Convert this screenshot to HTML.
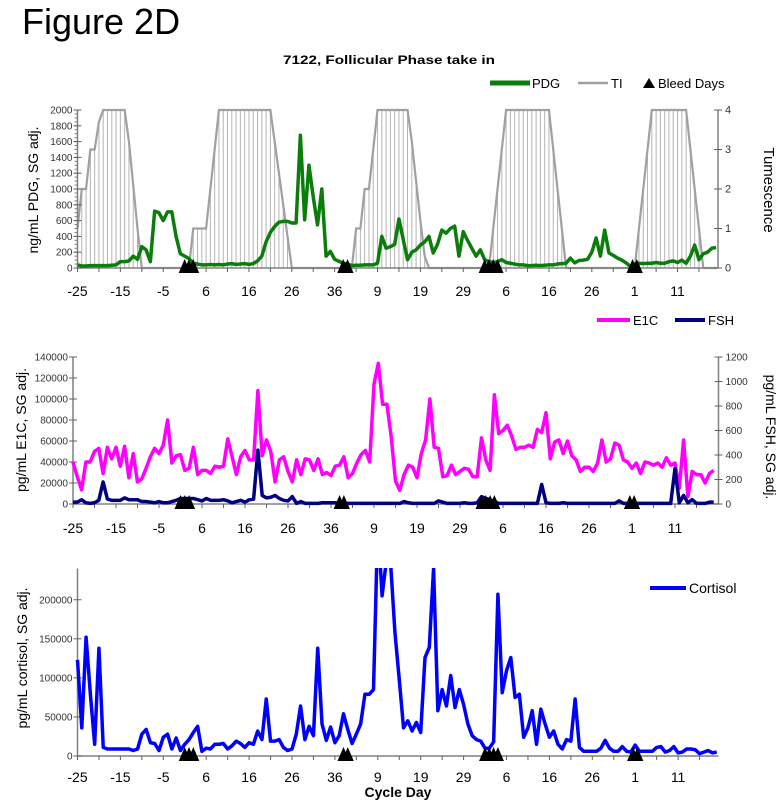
<!DOCTYPE html>
<html>
<head>
<meta charset="utf-8">
<style>
  html,body{margin:0;padding:0;background:#fff;}
  svg{display:block;font-family:"Liberation Sans",Arial,sans-serif;}
</style>
</head>
<body>
<svg id="chart" width="779" height="805" viewBox="0 0 779 805" xmlns="http://www.w3.org/2000/svg">
  <defs>
    <clipPath id="clipTop"><rect x="70" y="108" width="652" height="170"/></clipPath>
    <clipPath id="clipMid"><rect x="70" y="340" width="652" height="170"/></clipPath>
    <clipPath id="clipBot"><rect x="70" y="568" width="652" height="196"/></clipPath>
  </defs>
  <text x="22" y="34" font-size="36" fill="#000">Figure 2D</text>
  <text x="389" y="64" font-size="12" font-weight="bold" text-anchor="middle" textLength="212" lengthAdjust="spacingAndGlyphs">7122,  Follicular Phase take in</text>

  <g>
    <line x1="490" y1="83" x2="530" y2="83" stroke="#0a7d0a" stroke-width="5"/>
    <text x="532" y="88" font-size="13">PDG</text>
    <line x1="578" y1="83" x2="608" y2="83" stroke="#a0a0a0" stroke-width="2.5"/>
    <text x="611" y="88" font-size="13">TI</text>
    <polygon points="643,88 655,88 649,78" fill="#000"/>
    <text x="658" y="88" font-size="13">Bleed Days</text>
  </g>
  <g>
    <line x1="597" y1="320" x2="630" y2="320" stroke="#ff00ff" stroke-width="4"/>
    <text x="633" y="325" font-size="13">E1C</text>
    <line x1="675" y1="320" x2="705" y2="320" stroke="#000080" stroke-width="4"/>
    <text x="708" y="325" font-size="13">FSH</text>
  </g>
  <g>
    <line x1="650" y1="588" x2="686" y2="588" stroke="#0000ff" stroke-width="4"/>
    <text x="689" y="593" font-size="14">Cortisol</text>
  </g>

  <text transform="translate(38,190) rotate(-90)" font-size="14" text-anchor="middle">ng/mL PDG, SG adj.</text>
  <text transform="translate(764,190) rotate(90)" font-size="15" text-anchor="middle">Tumescence</text>
  <text transform="translate(26,430) rotate(-90)" font-size="14" text-anchor="middle">pg/mL E1C, SG adj.</text>
  <text transform="translate(766,437) rotate(90)" font-size="14" text-anchor="middle">pg/mL FSH, SG adj.</text>
  <text transform="translate(27,658) rotate(-90)" font-size="14" text-anchor="middle">pg/mL cortisol, SG adj.</text>
  <text x="398" y="797" font-size="14" font-weight="bold" text-anchor="middle">Cycle Day</text>
</svg>
<script>
const xTickLabels = ["-25","-15","-5","6","16","26","36","9","19","29","6","16","26","1","11"];
const bleedDays = [25,26,27,62,63,95,96,97,98,129.5,130.5];
const pdg = [40,25,25,30,30,30,30,30,35,40,80,80,90,150,110,270,230,80,720,700,600,710,710,400,180,150,120,60,50,40,40,45,40,45,40,50,55,45,50,55,45,55,90,150,330,450,525,580,590,590,570,570,1680,610,1300,900,545,1000,150,210,110,85,60,50,30,35,35,40,40,40,60,400,250,270,300,620,360,105,200,230,290,330,400,190,300,480,440,500,530,150,460,350,250,150,230,105,80,70,80,105,70,60,50,40,40,30,30,35,30,35,40,40,50,55,60,125,65,95,100,110,200,380,150,480,190,160,125,100,65,20,50,60,55,60,60,70,60,60,80,90,70,100,60,150,290,105,180,200,250,260];
const ti = [1,2,2,3,3,3.7,4,4,4,4,4,4,3.2,2.1,1,0,0,0,0,0,0,0,0,0,0,0,0,1,1,1,1,2,3,4,4,4,4,4,4,4,4,4,4,4,4,4,3.2,2.4,1.6,0.8,0,0,0,0,0,0,0,0,0,0,0,0,0,0,0,1,1,2,2,3,4,4,4,4,4,4,4,4,3.2,2.2,1.2,0.3,0,0,0,0,0,0,0,0,0,0,0,0,0,0,0,1,2,3,4,4,4,4,4,4,4,4,4,4,4,3,2,1,0,0,0,0,0,0,0,0,0,0,0,0,0,0,0,0,0,1,2,3,4,4,4,4,4,4,4,4,4,3,2,1,0,0,0,0];
const e1cK = [40,26,13.5,40,40,50,53,29,54,43,54,36,55,25,48,21,24,34,45,53,48,56,80,39,46,47,32,34,54,28,32,32,29,36,35,36,62,45,28,45,51,42,42,108,46,61,50,21,42,45,31,21,42,28,43,42,32,43,28,30,27,36,37,45,25,29,39,47,51,40,114,134,95,95,64,22,13,28,37,35,25,48,61,100,54,53,26,27,37,28,31,34,33,26,26,63,42,32,104,67,70,75,65,52,54,54,56,54,71,68,87,43,59,61,48,60,46,42,31,35,35,31,39,61,40,43,58,56,42,40,34,39,29,40,39,37,39,35,44,37,39,15,61,7,31,28,28,20,29,32];
const fsh = [15,15,35,10,5,10,30,180,40,30,30,30,50,35,35,35,20,20,15,10,20,10,10,20,30,45,45,45,45,35,25,45,30,30,30,35,25,10,20,30,15,35,40,440,70,50,55,70,45,30,25,60,5,20,5,5,5,5,10,10,10,10,5,5,5,5,5,5,5,5,5,5,5,5,5,5,5,20,10,5,5,5,5,5,5,25,15,5,5,5,5,10,5,5,10,60,45,35,20,5,5,5,5,5,5,5,5,5,5,160,10,5,5,5,10,5,5,5,5,5,5,5,5,5,5,5,5,25,5,5,5,5,5,5,5,5,5,5,5,5,290,10,70,10,35,5,5,5,15,15];
const cortisolK = [123,36,152,79,15,138,11,9,9,9,9,9,9,7,9,28,34,17,16,7,24,28,9,23,7,15,21,30,38,6,10,9,15,15,16,9,13,19,16,11,17,15,32,21,73,19,19,21,11,7,9,28,64,21,38,26,138,41,20,37,17,26,54,34,16,28,41,79,79,85,300,205,250,245,158,98,36,45,32,43,30,126,139,240,58,85,64,103,62,85,66,41,26,21,19,10,10,18,207,81,109,126,75,79,24,36,58,15,60,41,24,32,15,9,21,19,73,11,6,6,6,6,10,20,10,6,6,12,6,5,14,6,6,6,6,11,12,5,7,12,4,5,9,9,8,3,5,7,4,5];
const pdgTicks = [0,200,400,600,800,1000,1200,1400,1600,1800,2000];
const tiTicks = [0,1,2,3,4];
const e1cTicks = [0,20000,40000,60000,80000,100000,120000,140000];
const fshTicks = [0,200,400,600,800,1000,1200];
const cortisolTicks = [0,50000,100000,150000,200000];

const NS = "http://www.w3.org/2000/svg";
const svg = document.getElementById('chart');
function mk(tag, attrs, parent){
  const e = document.createElementNS(NS, tag);
  for (const k in attrs) e.setAttribute(k, attrs[k]);
  (parent||svg).appendChild(e);
  return e;
}

const P = {
  top: {x0:77.5, dx:4.286, xr:718, base:268, top:110, lmax:2000, rmax:4},
  mid: {x0:73, dx:4.3, xr:718.5, base:504, top:357, lmax:140000, rmax:1200},
  bot: {x0:77.5, dx:4.29, xr:718.5, base:756, top:568.5, lmax:240000}
};
function xS(p, i){ return p.x0 + i*p.dx; }
function yL(p, v){ return p.base - v/p.lmax*(p.base-p.top); }
function yR(p, v){ return p.base - v/p.rmax*(p.base-p.top); }

function drawXAxis(p, key, labelY){
  const g = mk('g', {});
  
  
  const ax = mk('line', {x1:p.x0, y1:p.base, x2:p.xr, y2:p.base, stroke:'#808080', 'stroke-width':1.5}, g);
  
  
  for (let i=0; i<=149; i+=5){
    const t = mk('line', {x1:xS(p,i), y1:p.base, x2:xS(p,i), y2:p.base+4, stroke:'#606060', 'stroke-width':1}, g);
    
    
  }
  xTickLabels.forEach((lab, k) => {
    const t = mk('text', {x:xS(p,k*10), y:labelY, 'font-size':14, 'text-anchor':'middle'}, g);
    t.textContent = lab;
    
    
  });
}
function drawYAxis(p, key, side, ticks, scale, fmt, fs, minorStep){
  const x = side==='left' ? p.x0 : p.xr;
  const g = mk('g', {});
  
  
  const ax = mk('line', {x1:x, y1:p.top, x2:x, y2:p.base, stroke:'#808080', 'stroke-width':1.5}, g);
  
  
  if (minorStep){
    for (let v=0; v<=ticks[ticks.length-1]; v+=minorStep){
      const m = mk('line', {x1:x-3, y1:scale(v), x2:x, y2:scale(v), stroke:'#808080', 'stroke-width':1}, g);
      
      
    }
  }
  ticks.forEach(v => {
    const y = scale(v);
    const t = mk('line', {x1:x-4, y1:y, x2:x+4, y2:y, stroke:'#606060', 'stroke-width':1}, g);
    
    
    const lx = side==='left' ? x-5 : x+7;
    const tx = mk('text', {x:lx, y:y+3.5, 'font-size':fs, fill:'#333', 'text-anchor': side==='left'?'end':'start'}, g);
    tx.textContent = fmt(v);
    
    
  });
}
function linePath(p, vals, scale){
  return vals.map((v,i) => (i?'L':'M') + xS(p,i).toFixed(2) + ',' + scale(v).toFixed(2)).join(' ');
}
function drawBleeds(p, key){
  bleedDays.forEach(d => {
    const x = xS(p, d);
    const t = mk('polygon', {points:`${x-6},${p.base+5} ${x+6},${p.base+5} ${x},${p.base-9}`, fill:'#000'});
    
    
  });
}

// TOP PANEL
const pt = P.top;
const tiG = mk('g', {'clip-path':'url(#clipTop)'});


ti.forEach((v,i) => {
  if (v > 0){
    const d = mk('line', {x1:xS(pt,i), y1:yR(pt,v), x2:xS(pt,i), y2:pt.base, stroke:'#b4b4b4', 'stroke-width':1}, tiG);
    
    
  }
});
const tiLine = mk('path', {d:linePath(pt, ti, v=>yR(pt,v)), fill:'none', stroke:'#a0a0a0', 'stroke-width':2.2}, tiG);


drawXAxis(pt, 'top', 296);
drawYAxis(pt, 'pdg', 'left', pdgTicks, v=>yL(pt,v), v=>String(v), 10, 50);
drawYAxis(pt, 'ti', 'right', tiTicks, v=>yR(pt,v), v=>String(v), 11, 0);
const pdgLine = mk('path', {d:linePath(pt, pdg, v=>yL(pt,v)), fill:'none', stroke:'#0a7d0a', 'stroke-width':3.5, 'stroke-linejoin':'round', 'clip-path':'url(#clipTop)'});


drawBleeds(pt, 'top');

// MIDDLE PANEL
const pm = P.mid;
drawXAxis(pm, 'mid', 533);
drawYAxis(pm, 'e1c', 'left', e1cTicks, v=>yL(pm,v), v=>String(v), 10, 0);
drawYAxis(pm, 'fsh', 'right', fshTicks, v=>yR(pm,v), v=>String(v), 10, 0);
const e1cLine = mk('path', {d:linePath(pm, e1cK, v=>yL(pm,v*1000)), fill:'none', stroke:'#ff00ff', 'stroke-width':3.5, 'stroke-linejoin':'round', 'clip-path':'url(#clipMid)'});


const fshLine = mk('path', {d:linePath(pm, fsh, v=>yR(pm,v)), fill:'none', stroke:'#000080', 'stroke-width':3.5, 'stroke-linejoin':'round', 'clip-path':'url(#clipMid)'});


drawBleeds(pm, 'mid');

// BOTTOM PANEL
const pb = P.bot;
drawXAxis(pb, 'bottom', 782);
drawYAxis(pb, 'cortisol', 'left', cortisolTicks, v=>yL(pb,v), v=>String(v), 10, 0);
const cortLine = mk('path', {d:linePath(pb, cortisolK, v=>yL(pb,v*1000)), fill:'none', stroke:'#0000ff', 'stroke-width':3.5, 'stroke-linejoin':'round', 'clip-path':'url(#clipBot)'});


drawBleeds(pb, 'bottom');
</script>
</body>
</html>
